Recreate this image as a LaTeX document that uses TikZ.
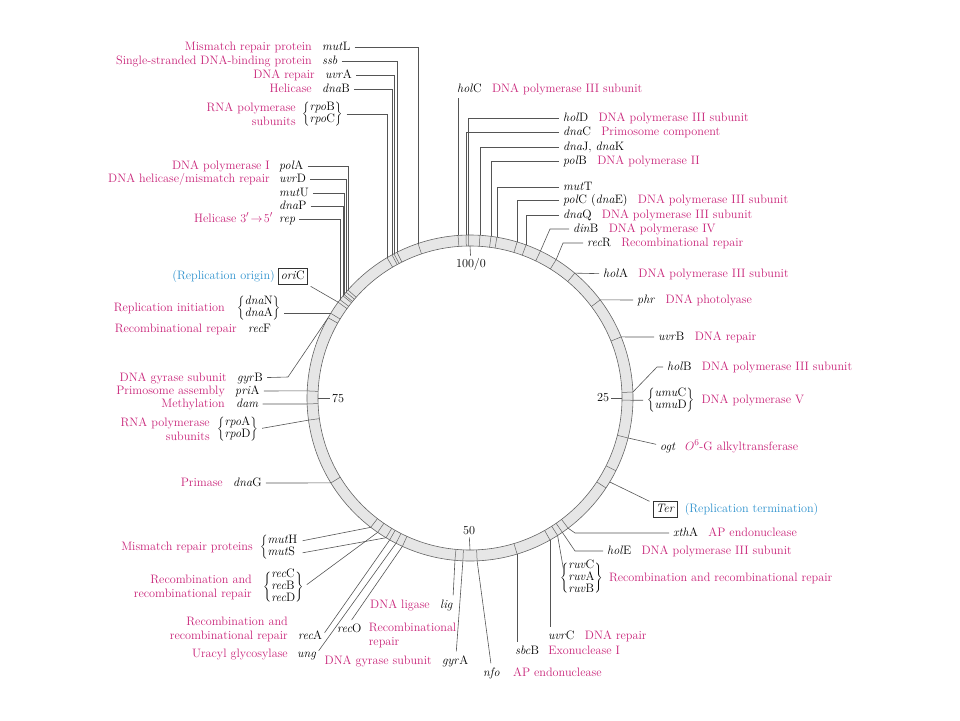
\documentclass[tikz,border=0pt]{standalone}
\usepackage{fontspec}
\usepackage{tikz}
\usetikzlibrary{calc,positioning}
\definecolor{fncol}{RGB}{200,35,120}
\definecolor{sitecol}{RGB}{45,145,205}
\definecolor{ringfill}{RGB}{230,230,230}
\definecolor{ringline}{RGB}{100,100,100}
\definecolor{leadcol}{RGB}{85,85,85}
\renewcommand{\arraystretch}{0.85}
\delimiterfactor=750
\delimitershortfall=8pt
\newcommand{\genes}[1]{$\left\{\begin{tabular}{@{}l@{}}#1\end{tabular}\right\}$}
\newcommand{\genesl}[1]{$\left\{\begin{tabular}{@{}l@{}}#1\end{tabular}\right.$}

\begin{document}
\begin{tikzpicture}[x=1pt, y=-1pt,
    every node/.style={font=\fontsize{12.2}{14}\selectfont, inner sep=0pt},
    gene/.style={anchor=west, text height=8.5pt, text depth=2.5pt},
    fn/.style={text=fncol, text height=8.5pt, text depth=2.5pt},
    fnn/.style={text=fncol, align=right},
    site/.style={text=sitecol, text height=8.5pt, text depth=2.5pt},
    sitebox/.style={draw=black!80, line width=0.6pt, inner sep=2.5pt, text height=8.5pt, text depth=2.5pt},
    leadl/.style={draw=leadcol, line width=0.6pt, shorten <=4pt},
    leadr/.style={draw=leadcol, line width=0.6pt, shorten >=3pt},
    ringtick/.style={draw=ringline, line width=0.5pt}]
    \useasboundingbox (0,0) rectangle (960,720);

    % the chromosome
    \coordinate (C) at (470,398);
    \fill[ringfill, even odd rule] (C) circle (163pt) (C) circle (152pt);
    \draw[ringline, line width=0.6pt] (C) circle (163pt) (C) circle (152pt);
    \foreach \n/\a in {holC/-94.2, holD/-90.5, dnaC/-91.4, dnaJK/-86.5, polB/-82.6,
        mutT/-80.5, polC/-73.2, dnaQ/-69.9, dinB/-64.4, recR/-58.1, holA/-50, phr/-37,
        uvrB/-22, holB/-2.1, umu/0.8, ogt/14.2, terA/26.5, terB/33.5, xthA/53,
        holE/55.5, ruv/57.5, uvrC/60.6, sbcB/73.2, nfo/87.5, gyrA/92.5, lig/95.3,
        recO/114.5, ung/117, recA/119.5, mutS/121, recBCD/124.5, mutH/127.5,
        dnaG/148.6, rpoAD/172.2, dam/177.9, priA/182.5, gyrB/209.5, dnaNA/211.3,
        oriC/216, rep/217.1, dnaP/218.8, mutU/219.4, uvrD/220.5, polA/221.5,
        rpoBC/239.4, dnaB/241.4, uvrA/242.2, ssb/243.4, mutL/251.4} {
      \coordinate (\n-r) at ($(C)+(\a:163)$);
      \draw[ringtick] ($(C)+(\a:152)$) -- (\n-r);
    }
    \coordinate (Ter-r) at ($(C)+(31:163)$);
    \foreach \n/\a in {n0/-90, n25/0, n50/90, n75/180}
      \coordinate (\n-i) at ($(C)+(\a:152)$);

    % map positions
    \node (n0) at (471,264) {100/0};
    \node (n25) at (603,398) {25};
    \node (n50) at (469,531) {50};
    \node (n75) at (338,398) {75};
    \draw[leadr, shorten >=2pt] (n0-i) -- (n0);
    \draw[leadr, shorten >=2pt] (n25-i) -- (n25);
    \draw[leadr, shorten >=2pt] (n50-i) -- (n50);
    \draw[leadr, shorten >=2pt] (n75-i) -- (n75);

    % upper left
    \node[gene] (mutL) at (322,47) {\textit{mut}L};
    \node[gene] (ssb) at (322,61) {\textit{ssb}};
    \node[gene] (uvrA) at (325,75) {\textit{uvr}A};
    \node[gene] (dnaB) at (322,89.5) {\textit{dna}B};
    \node[gene] (rpoBC) at (302,114.5) {\genes{\textit{rpo}B\\\textit{rpo}C}};
    \node[fn, left=10pt of mutL] {Mismatch repair protein};
    \node[fn, left=10pt of ssb] {Single-stranded DNA-binding protein};
    \node[fn, left=10pt of uvrA] {DNA repair};
    \node[fn, left=10pt of dnaB] {Helicase};
    \node[fnn, left=6pt of rpoBC] {RNA polymerase\\subunits};
    \draw[leadl] (mutL) -| (mutL-r);
    \draw[leadl] (ssb) -| (ssb-r);
    \draw[leadl] (uvrA) -| (uvrA-r);
    \draw[leadl] (dnaB) -| (dnaB-r);
    \draw[leadl] (rpoBC) -| (rpoBC-r);

    \node[gene] (polA) at (279,166) {\textit{pol}A};
    \node[gene] (uvrD) at (279,179) {\textit{uvr}D};
    \node[gene] (mutU) at (279,193) {\textit{mut}U};
    \node[gene] (dnaP) at (279,206) {\textit{dna}P};
    \node[gene] (rep) at (279,219) {\textit{rep}};
    \node[fn, left=9pt of polA] {DNA polymerase I};
    \node[fn, left=9pt of uvrD] {DNA helicase/mismatch repair};
    \node[fn, left=6pt of rep] {Helicase $3'\!\rightarrow\!5'$};
    \draw[leadl] (polA) -| (polA-r);
    \draw[leadl] (uvrD) -| (uvrD-r);
    \draw[leadl] (mutU) -| (mutU-r);
    \draw[leadl] (dnaP) -| (dnaP-r);
    \draw[leadl] (rep) -| (rep-r);

    % left
    \node[sitebox, anchor=west] (oriC) at (278,276) {\textit{ori}C};
    \node[site, left=3pt of oriC] {(Replication origin)};
    \draw[leadl] (oriC) -- (oriC-r);
    \node[gene] (dnaNA) at (237,308) {\genes{\textit{dna}N\\\textit{dna}A}};
    \node[fn, left=12pt of dnaNA] {Replication initiation};
    \draw[leadr, shorten >=4pt] (dnaNA-r) -- (dnaNA-r -| dnaNA.east);
    \node[gene] (recF) at (248,329) {\textit{rec}F};
    \node[fn, left=11pt of recF] {Recombinational repair};
    \node[gene] (gyrB) at (237,378) {\textit{gyr}B};
    \node[gene] (priA) at (235,391) {\textit{pri}A};
    \node[gene] (dam) at (236,404) {\textit{dam}};
    \node[fn, left=10pt of gyrB] {DNA gyrase subunit};
    \node[fn, left=10pt of priA] {Primosome assembly};
    \node[fn, left=11pt of dam] {Methylation};
    \coordinate (gyrB-k) at (288,377);
    \draw[leadl] (gyrB) -- (gyrB-k) -- (gyrB-r);
    \draw[leadl] (priA) -- (priA-r);
    \draw[leadl] (dam) -- (dam-r);
    \node[gene] (rpoAD) at (217,429) {\genes{\textit{rpo}A\\\textit{rpo}D}};
    \node[fnn, left=7pt of rpoAD] {RNA polymerase\\subunits};
    \draw[leadl] (rpoAD.east) -- (rpoAD-r);
    \node[gene] (dnaG) at (233,483) {\textit{dna}G};
    \node[fn, left=10pt of dnaG] {Primase};
    \draw[leadl] (dnaG) -- (dnaG-r);

    % lower left
    \node[gene] (mutHS) at (260,547.5) {\genesl{\textit{mut}H\\\textit{mut}S}};
    \node[fn, left=7pt of mutHS] {Mismatch repair proteins};
    \draw[leadl] ([yshift=6pt]mutHS.east) -- (mutH-r);
    \draw[leadl] ([yshift=-6pt]mutHS.east) -- (mutS-r);
    \node[gene] (recBCD) at (263,587) {\genes{\textit{rec}C\\\textit{rec}B\\\textit{rec}D}};
    \node[fnn, left=11pt of recBCD] {Recombination and\\recombinational repair};
    \draw[leadl] (recBCD.east) -- (recBCD-r);
    \node[gene] (recA) at (298,636) {\textit{rec}A};
    \node[fnn, left=10pt of recA, yshift=6.5pt] {Recombination and\\recombinational repair};
    \draw[leadl] (recA.east) -- (recA-r);
    \node[gene] (ung) at (297,654) {\textit{ung}};
    \node[fn, left=9pt of ung] {Uracyl glycosylase};
    \draw[leadl] (ung.east) -- (ung-r);
    \node[gene] (recO) at (337,629) {\textit{rec}O};
    \node[fnn, align=left, right=7pt of recO, yshift=-6.5pt] {Recombinational\\repair};
    \draw[leadl] (recO.north) -- (recO-r);

    % bottom
    \node[gene] (lig) at (440,605) {\textit{lig}};
    \node[fn, left=10pt of lig] {DNA ligase};
    \draw[leadl] (lig.north east) -- (lig-r);
    \node[gene] (gyrA) at (442,661) {\textit{gyr}A};
    \node[fn, left=10pt of gyrA] {DNA gyrase subunit};
    \draw[leadl] ([xshift=14pt]gyrA.north west) -- (gyrA-r);
    \node[gene] (nfo) at (483,673) {\textit{nfo}};
    \node[fn, right=13pt of nfo] {AP endonuclease};
    \draw[leadl] (nfo.north) -- (nfo-r);
    \node[gene] (sbcB) at (515,651) {\textit{sbc}B};
    \node[fn, right=9pt of sbcB] {Exonuclease I};
    \draw[leadr] (sbcB-r) -- (sbcB-r |- sbcB.north);
    \node[gene] (uvrC) at (548,636) {\textit{uvr}C};
    \node[fn, right=10pt of uvrC] {DNA repair};
    \draw[leadr] (uvrC-r) -- (uvrC-r |- uvrC.north);

    % lower right
    \node[gene] (ruvCAB) at (560,578) {\genes{\textit{ruv}C\\\textit{ruv}A\\\textit{ruv}B}};
    \node[fn, right=6pt of ruvCAB] {Recombination and recombinational repair};
    \draw[leadl] ([xshift=4pt]ruvCAB.north west) -- (ruv-r);
    \node[gene] (holE) at (607,551) {\textit{hol}E};
    \node[fn, right=10pt of holE] {DNA polymerase III subunit};
    \coordinate (holE-k) at (575,551);
    \draw[leadl] (holE) -- (holE-k) -- (holE-r);
    \node[gene] (xthA) at (673,533) {\textit{xth}A};
    \node[fn, right=10pt of xthA] {AP endonuclease};
    \coordinate (xthA-k) at (575,533);
    \draw[leadl] (xthA) -- (xthA-k) -- (xthA-r);
    \node[sitebox, anchor=west] (Ter) at (653,509) {\textit{Ter}};
    \node[site, right=7pt of Ter] {(Replication termination)};
    \draw[leadl] (Ter) -- (Ter-r);

    % right
    \node[gene] (ogt) at (660,447) {\textit{ogt}};
    \node[fn, right=9pt of ogt] {$O^6$-G alkyltransferase};
    \draw[leadl] (ogt) -- (ogt-r);
    \node[gene] (umuCD) at (647,400) {\genes{\textit{umu}C\\\textit{umu}D}};
    \node[fn, right=7pt of umuCD] {DNA polymerase V};
    \draw[leadl] (umuCD) -- (umu-r);
    \node[gene] (holB) at (667,367) {\textit{hol}B};
    \node[fn, right=10pt of holB] {DNA polymerase III subunit};
    \coordinate (holB-k) at (657,367);
    \draw[leadl] (holB) -- (holB-k) -- (holB-r);
    \node[gene] (uvrB) at (658,337) {\textit{uvr}B};
    \node[fn, right=10pt of uvrB] {DNA repair};
    \draw[leadl] (uvrB) -- (uvrB-r);
    \node[gene] (phr) at (637,300) {\textit{phr}};
    \node[fn, right=10pt of phr] {DNA photolyase};
    \draw[leadl] (phr) -- (phr-r);
    \node[gene] (holA) at (603,274) {\textit{hol}A};
    \node[fn, right=10pt of holA] {DNA polymerase III subunit};
    \draw[leadl] (holA) -- (holA-r);

    % upper right
    \node[gene] (recR) at (587,243) {\textit{rec}R};
    \node[fn, right=10pt of recR] {Recombinational repair};
    \coordinate (recR-k) at (563,243);
    \draw[leadl] (recR) -- (recR-k) -- (recR-r);
    \node[gene] (dinB) at (573,229) {\textit{din}B};
    \node[fn, right=10pt of dinB] {DNA polymerase IV};
    \coordinate (dinB-k) at (550,229);
    \draw[leadl] (dinB) -- (dinB-k) -- (dinB-r);
    \node[gene] (dnaQ) at (563,215) {\textit{dna}Q};
    \node[gene] (polC) at (563,200) {\textit{pol}C (\textit{dna}E)};
    \node[gene] (mutT) at (563,187) {\textit{mut}T};
    \node[gene] (polB) at (563,161) {\textit{pol}B};
    \node[gene] (dnaJK) at (563,147) {\textit{dna}J, \textit{dna}K};
    \node[gene] (dnaC) at (563,132) {\textit{dna}C};
    \node[gene] (holD) at (563,118) {\textit{hol}D};
    \node[fn, right=10pt of dnaQ] {DNA polymerase III subunit};
    \node[fn, right=10pt of polC] {DNA polymerase III subunit};
    \node[fn, right=10pt of polB] {DNA polymerase II};
    \node[fn, right=10pt of dnaC] {Primosome component};
    \node[fn, right=10pt of holD] {DNA polymerase III subunit};
    \draw[leadl] (dnaQ) -| (dnaQ-r);
    \draw[leadl] (polC) -| (polC-r);
    \draw[leadl] (mutT) -| (mutT-r);
    \draw[leadl] (polB) -| (polB-r);
    \draw[leadl] (dnaJK) -| (dnaJK-r);
    \draw[leadl] (dnaC) -| (dnaC-r);
    \draw[leadl] (holD) -| (holD-r);
    \node[gene] (holC) at (457,89) {\textit{hol}C};
    \node[fn, right=10pt of holC] {DNA polymerase III subunit};
    \draw[leadr] (holC-r) -- (holC-r |- holC.south);
  \end{tikzpicture}
\end{document}
